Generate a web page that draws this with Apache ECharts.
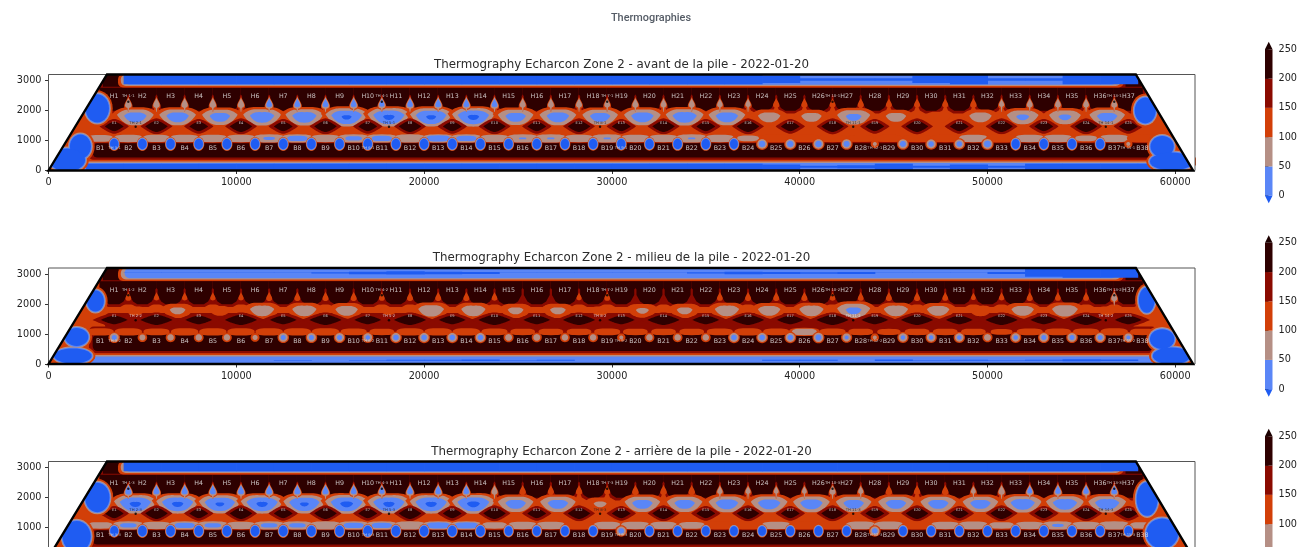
<!DOCTYPE html>
<html><head><meta charset="utf-8">
<style>html,body{margin:0;background:#fff;overflow:hidden}#main{width:1309px;height:547px;filter:blur(0.45px)}</style>
<script src="https://cdn.jsdelivr.net/npm/echarts@6/dist/echarts.min.js"></script>
</head><body><div id="main"></div>
<script>
// ---------- labels and sensor positions (metres along the pile) ----------
const pageTitle = 'Thermographies';
const panelTitles = ['Thermography Echarcon Zone 2 - avant de la pile - 2022-01-20','Thermography Echarcon Zone 2 - milieu de la pile - 2022-01-20','Thermography Echarcon Zone 2 - arrière de la pile - 2022-01-20'];
const xTicks = [0,10000,20000,30000,40000,50000,60000];
const yTicks = [0,1000,2000,3000];
const cbTicks = [0,50,100,150,200,250];
const outlineX = [0,3115,57900,60950];
const outlineY = [0,3200,3200,0];
const hNames = ['H1','H2','H3','H4','H5','H6','H7','H8','H9','H10','H11','H12','H13','H14','H15','H16','H17','H18','H19','H20','H21','H22','H23','H24','H25','H26','H27','H28','H29','H30','H31','H32','H33','H34','H35','H36','H37'];
const hX = [3500,5000,6500,8000,9500,11000,12500,14000,15500,17000,18500,20000,21500,23000,24500,26000,27500,29000,30500,32000,33500,35000,36500,38000,39500,41000,42500,44000,45500,47000,48500,50000,51500,53000,54500,56000,57500];
const eNames = ['E1','E2','E3','E4','E5','E6','E7','E8','E9','E10','E11','E12','E13','E14','E15','E16','E17','E18','E19','E20','E21','E22','E23','E24','E25'];
const eX = [3500,5750,8000,10250,12500,14750,17000,19250,21500,23750,26000,28250,30500,32750,35000,37250,39500,41750,44000,46250,48500,50750,53000,55250,57500];
const bNames = ['B1','B2','B3','B4','B5','B6','B7','B8','B9','B10','B11','B12','B13','B14','B15','B16','B17','B18','B19','B20','B21','B22','B23','B24','B25','B26','B27','B28','B29','B30','B31','B32','B33','B34','B35','B36','B37','B38'];
const bX = [2750,4250,5750,7250,8750,10250,11750,13250,14750,16250,17750,19250,20750,22250,23750,25250,26750,28250,29750,31250,32750,34250,35750,37250,38750,40250,41750,43250,44750,46250,47750,49250,50750,52250,53750,55250,56750,58250];
const dropX = [4250,5750,7250,8750,10250,11750,13250,14750,16250,17750,19250,20750,22250,23750,25250,26750,28250,29750,31250,32750,34250,35750,37250,38750,40250,41750,43250,44750,46250,47750,49250,50750,52250,53750,55250,56750];
const lensX = [4625,6875,9125,11375,13625,15875,18125,20375,22625,24875,27125,29375,31625,33875,36125,38375,40625,42875,45125,47375,49625,51875,54125,56375];
const holeX = [3500,5000,6500,8000,9500,11000,12500,14000,15500,17000,18500,20000,21500,23000,24500,26000,27500,29000,30500,32000,33500,35000,36500,38000,39500,41000,42500,44000,45500,47000,48500,50000,51500,53000,54500,56000,57500];
const thHX = [4250,17750,29750,41750,56750];
const thEX = [4640,18130,29370,42850,56300];
const thBX = [3520,17020,30490,44000,57470];
const thHNames = ['TH 1','TH 4','TH 7','TH 10','TH 13'];
const thENames = ['TH 2','TH 5','TH 8','TH 11','TH 14'];
const thBNames = ['TH 3','TH 6','TH 9','TH 12','TH 15'];
const topX = [4000,6000,8000,10000,12000,14000,16000,18000,20000,22000,24000,26000,28000,30000,32000,34000,36000,38000,40000,42000,44000,46000,48000,50000,52000,54000,56000];
const bottomX = [2000,4000,6000,8000,10000,12000,14000,16000,18000,20000,22000,24000,26000,28000,30000,32000,34000,36000,38000,40000,42000,44000,46000,48000,50000,52000,54000,56000,58000];

// ---------- temperatures (deg C) ----------
const avantCell = [225,225,225,225,225,225,225,225,225,225,225,225,225,225,225,225,225,225,225,225,225,225,225,225,225,225,225,225,225,225,225,225,225,225,225,225,225];
const avantDrop = [55,60,60,60,60,30,30,30,30,40,30,30,30,30,70,70,70,75,70,75,70,80,85,110,115,120,115,120,120,120,110,90,75,75,75,70];
const avantLens = [20,20,25,15,15,-6,-8,-6,-8,25,20,25,20,15,20,70,75,35,75,110,70,40,40,25];
const avantDiamond = [235,250,235,250,235,250,235,250,235,250,235,250,235,250,235,250,235,250,235,250,235,250,235,250,235];
const avantBridge = [80,70,75,70,70,70,45,35,70,40,35,60,30,35,70,48,48,70,48,70,70,48,70,95,110,115,120,130,125,120,120,70,100,70,70,95,70,110];
const avantHole = [-40,-40,-40,-40,-40,-40,-40,-40,-40,-40,-40,-40,-40,-40,-30,-30,-30,-30,-30,-30,-35,-35,-20,10,10,10,15,85,15,20,20,5,-20,-25,-25,-30,85];
const avantTop = [-30,-30,-30,-30,-30,-30,-30,-30,-30,-30,-30,-30,-30,-30,-30,-30,-30,-22,-8,-8,-8,-22,-30,-8,-8,-30,-30];
const avantBottom = [-25,-25,-25,-25,-25,-25,-25,-25,-25,-25,-25,-25,-25,-25,-25,-25,-25,-25,-18,-8,-12,-25,-8,-18,-8,-25,-25,-25,-25];
const avantStrips = [[2700,4150,2000,3200,175],[2900,3800,2300,3200,225],[56950,58400,2000,3200,175],[57350,58200,2300,3200,225],[3700,57250,2770,3200,125],[3850,57100,2820,3200,75],[4050,56880,2860,3200,25],[2150,59000,340,960,175],[2350,58800,430,905,225],[1800,59600,0,360,125],[1600,59800,0,300,75],[1500,60000,0,250,25]];
const avantBlobs = [[2600,2070,620,470,-20],[58400,2000,560,430,-20],[1700,800,560,400,-20],[1000,350,950,380,-20],[59300,800,620,350,-20],[59800,300,1150,300,-20]];

const milieuCell = [225,225,225,225,225,225,225,225,225,225,225,225,225,225,225,225,225,225,225,225,225,225,225,225,225,225,225,225,225,225,225,225,225,225,225,225,225];
const milieuDrop = [125,135,135,135,135,120,120,120,120,125,120,120,120,130,155,155,140,125,155,155,155,125,120,120,120,130,125,120,120,125,145,135,120,125,125,70];
const milieuLens = [125,85,120,65,65,70,130,60,65,85,85,125,90,85,65,70,65,35,65,70,115,70,60,125];
const milieuDiamond = [232,245,232,245,232,245,232,245,232,245,232,245,232,245,232,245,232,245,232,245,232,245,232,245,232];
const milieuBridge = [125,125,130,125,125,125,125,125,125,130,135,125,125,125,130,135,135,135,130,135,135,135,130,125,130,85,130,135,140,135,135,135,145,130,130,130,125,135];
const milieuHole = [25,65,60,60,60,75,25,25,25,30,20,20,20,20,55,55,60,60,85,60,60,60,20,20,20,15,35,85,30,30,30,55,30,25,25,25,35];
const milieuTop = [-1,-1,-1,-1,-1,-4,-8,-10,-8,-6,-1,-1,-1,-1,-1,-4,-8,-6,-5,-6,-1,-1,-1,-6,-24,-30,-30];
const milieuBottom = [-1,-1,-1,-1,-1,-3,-1,-3,-5,-4,-6,-2,-5,-1,-1,-1,-1,-1,-4,-5,-1,-6,-3,-5,-2,-5,-8,-6,-1];
const milieuStrips = [[2700,4150,2000,3200,175],[2900,3800,2200,3200,225],[56950,58400,2000,3200,175],[57350,58200,2200,3200,225],[3000,57800,1150,1700,175],[3300,57700,1980,2750,175],[3700,57250,2770,3200,125],[3850,57100,2820,3200,75],[4050,56880,2860,3200,25],[2150,59000,340,1250,175],[2350,58800,430,990,225],[1900,59500,0,360,125],[1700,59700,0,300,75],[1500,60000,0,250,25]];
const milieuBlobs = [[2500,2100,450,350,-10],[58480,2130,420,420,-10],[1500,900,620,300,-20],[1300,270,1000,250,-20],[59300,830,650,330,-20],[59800,270,1000,280,-20]];

const arriereCell = [225,225,225,225,225,225,225,225,225,225,225,225,225,225,225,225,225,225,225,225,225,225,225,225,225,225,225,225,225,225,225,225,225,225,225,225,225];
const arriereDrop = [20,25,25,25,25,25,25,25,30,40,30,30,30,70,110,115,110,120,105,105,105,85,90,95,95,70,90,105,110,105,95,65,45,35,35,30];
const arriereLens = [-8,-8,-5,-8,-5,-10,-8,-8,-10,25,25,90,25,25,20,20,20,25,25,25,25,15,15,15];
const arriereDiamond = [235,250,235,250,235,250,235,250,235,250,235,250,235,250,235,250,235,250,235,250,235,250,235,250,235];
const arriereBridge = [85,40,70,35,40,70,40,40,60,35,35,60,30,30,85,70,70,110,75,70,75,80,100,110,70,110,110,65,65,110,70,65,85,70,45,70,55,85];
const arriereHole = [-20,-40,-40,-40,-40,-40,-40,-40,-40,-40,-40,-40,-40,-40,-5,-5,-5,-5,20,-5,-5,-5,-10,-10,-10,-15,-5,20,-5,-10,-15,-15,-25,-25,-20,-20,-5];
const arriereTop = [-30,-30,-30,-30,-30,-30,-30,-30,-30,-30,-30,-30,-30,-30,-30,-30,-30,-30,-30,-30,-30,-30,-30,-30,-30,-30,-30];
const arriereBottom = [-25,-25,-25,-25,-25,-25,-25,-25,-25,-25,-25,-25,-25,-25,-25,-25,-25,-25,-25,-25,-25,-25,-25,-25,-25,-25,-25,-25,-25];
const arriereStrips = [[2700,4150,2000,3200,175],[2900,3800,2300,3200,225],[56950,58400,2000,3200,175],[57350,58200,2300,3200,225],[3700,57250,2770,3200,125],[3850,57100,2820,3200,75],[4050,56880,2860,3200,25],[2150,59000,340,960,175],[2350,58800,430,905,225],[1800,59600,0,360,125],[1600,59800,0,300,75],[1500,60000,0,250,25]];
const arriereBlobs = [[2600,2000,650,490,-20],[58500,1950,560,560,-20],[1500,700,750,520,-20],[59300,800,850,500,-20]];

// ---------- colour bands ----------
const DEEP='#1f5cf2', LIGHT='#5a86f7', TAN='#b58f85', ORANGE='#d23f08', DARK='#8a0a00', BLACK='#2e0000';
const bandLo = [0,50,100,150,200];
const bandHi = [50,100,150,200,250];
const bandColors = [LIGHT,TAN,ORANGE,DARK,BLACK];
function bandOf(v){return v<0?DEEP:v<50?LIGHT:v<100?TAN:v<150?ORANGE:v<200?DARK:BLACK;}
const coldLevels=[[150,ORANGE],[100,TAN],[50,LIGHT],[0,DEEP]];
const hotLevels=[[150,DARK],[200,BLACK]];
const blobRings=[[200,130,ORANGE],[100,70,TAN],[50,30,LIGHT],[0,0,DEEP]];

// ---------- mark kinds and contour-like shapes ----------
const K={BASE:0,STRIP:1,CELL:2,LENS:3,DIAMOND:4,DROP:5,BRIDGE:6,HOLE:7,TOP:8,BOTTOM:9,BLOB:10,MASK:11,FRAME:12,OUTLINE:13};
function lens(cx,cy,hw,hh,pow,lift){const p=[];const N=14;
  const f=u=>1-Math.pow(Math.abs(u),pow);
  for(let i=-N;i<=N;i++){const u=i/N;p.push([cx+hw*u,cy+lift*u*u+hh*f(u)]);}
  for(let i=N-1;i>-N;i--){const u=i/N;p.push([cx+hw*u,cy+lift*u*u-hh*f(u)]);}return p;}
function flat(cx,cy,hw,hh){const p=[];const N=16;
  for(let i=0;i<2*N;i++){const a=Math.PI*i/N;const c=Math.cos(a),s=Math.sin(a);p.push([cx+hw*Math.sign(c)*Math.pow(Math.abs(c),0.6),cy+hh*Math.sign(s)*Math.pow(Math.abs(s),0.8)]);}return p;}
function ell(cx,cy,rx,ry){const p=[];for(let i=0;i<28;i++){const a=Math.PI*i/14;p.push([cx+rx*Math.cos(a),cy+ry*Math.sin(a)]);}return p;}
function drop(cx,cy,hw,hh){const p=[];for(let i=0;i<28;i++){const a=Math.PI*i/14;const c=Math.cos(a);p.push([cx+hw*1.5*Math.sin(a)*(1-c)/2,cy+hh*c]);}return p;}
function coldS(t,v,k){return t<=v?0:Math.min(1.6,Math.sqrt((t-v)/k));}
function offS(t,v,o,k){return t<=v?0:Math.sqrt((t-v+o)/k);}
function hotS(t,v,k){return v<=t?0:Math.min(1.6,Math.sqrt((v-t)/k));}

function makeRender(){
  return function(params,api){
    const kind=api.value(0),x=api.value(1),y=api.value(2),v=api.value(3),a=api.value(4),b=api.value(5),lvl=api.value(6);
    const poly=(pts,fill)=>({type:'polygon',shape:{points:pts.map(q=>api.coord(q))},style:{fill:fill}});
    const kids=[];
    if(kind===K.BASE){kids.push(poly(outlineX.map((q,i)=>[q,outlineY[i]]),ORANGE));}
    else if(kind===K.STRIP){
      const p0=api.coord([x,y]),p1=api.coord([a,b]);
      const h=Math.abs(p1[1]-p0[1]);
      kids.push({type:'rect',shape:{x:p0[0],y:Math.min(p0[1],p1[1]),width:p1[0]-p0[0],height:h,r:Math.min(5,h/2)},style:{fill:bandOf(v)}});
    }
    else if(kind===K.CELL){
      const D=[[-770,2790],[770,2790],[770,2260],[600,2000],[320,1900],[-320,1900],[-600,2000],[-770,2260]];
      const B=[[-770,2755],[770,2755],[770,2540],[690,2480],[690,2300],[500,2080],[270,1990],[-270,1990],[-500,2080],[-690,2300],[-690,2480],[-770,2540]];
      kids.push(poly(D.map(q=>[x+q[0],q[1]]),DARK));
      if(v>=200)kids.push(poly(B.map(q=>[x+q[0],q[1]]),BLACK));
    }
    else if(kind===K.LENS){
      coldLevels.forEach(l=>{const s=coldS(l[0],v,80);if(s>0)kids.push(poly(lens(x,y,980*s,265*s,3,90*s),l[1]));});
    }
    else if(kind===K.DIAMOND){
      hotLevels.forEach(l=>{const s=hotS(l[0],v,50);if(s>0)kids.push(poly(lens(x,y,a*s,b*s,1.5,0),l[1]));});
    }
    else if(kind===K.DROP){
      coldLevels.forEach(l=>{const s=offS(l[0],v,40,120);if(s>0){
        kids.push(poly(drop(x,y,215*s,210*s),l[1]));
        if(l[0]>=100&&v<100)kids.push(poly([[x-80*s,y-100*s],[x+80*s,y-100*s],[x+12,1950],[x-12,1950]],l[1]));
      }});
    }
    else if(kind===K.BRIDGE){
      coldLevels.forEach(l=>{
        const s=l[0]<=50?coldS(l[0],v,30):offS(l[0],v,30,60);
        if(s>0){const q=Math.min(1.08,s);kids.push(poly(flat(x,y,760*q,125*q),l[1]));}
      });
    }
    else if(kind===K.HOLE){
      coldLevels.forEach(l=>{
        const s=v<0?offS(l[0],v,150,230):coldS(l[0],v,80);
        if(s>0)kids.push(poly(ell(x,y,245*s,(v<0?190:150)*s),l[1]));
      });
    }
    else if(kind===K.TOP||kind===K.BOTTOM){
      const full=kind===K.TOP?320:240;
      const h=Math.min(full,-v*(full/30));
      const p0=api.coord([x,y+h/2]),p1=api.coord([x+2000,y-h/2]);
      if(v<0)kids.push({type:'rect',shape:{x:p0[0],y:p0[1],width:p1[0]-p0[0]+0.5,height:p1[1]-p0[1]},style:{fill:DEEP}});
    }
    else if(kind===K.BLOB){
      const l=blobRings[lvl];kids.push(poly(ell(x,y,a+l[0],b+l[1]),l[2]));
    }
    else if(kind===K.MASK){
      kids.push(poly([[0,0],[outlineX[1],outlineY[1]],[0,outlineY[1]]],'#fff'));
      kids.push(poly([[outlineX[3],0],[61050,0],[61050,3200],[outlineX[2],outlineY[2]]],'#fff'));
    }
    else if(kind===K.FRAME){
      const p0=api.coord([x,a]),p1=api.coord([y,b]);
      kids.push({type:'rect',shape:{x:p0[0],y:p1[1],width:p1[0]-p0[0],height:p0[1]-p1[1]},style:{fill:'none',stroke:'#555',lineWidth:1}});
    }
    else if(kind===K.OUTLINE){
      kids.push({type:'polygon',shape:{points:outlineX.map((q,i)=>api.coord([q,outlineY[i]]))},style:{fill:'none',stroke:'#000',lineWidth:2.4,lineJoin:'miter'}});
    }
    return {type:'group',children:kids};
  };
}

function buildMarks(d){
  const m=[];
  const add=(k,x,y,v,a,b,l)=>m.push([k,x,y,v,a||0,b||0,l||0]);
  add(K.BASE,0,0,0);
  d.strips.filter(s=>s[2]>=1100&&s[3]<3200).forEach(s=>add(K.STRIP,s[0],s[2],s[4],s[1],s[3]));
  d.strips.filter(s=>s[3]===3200&&s[4]>150).forEach(s=>add(K.STRIP,s[0],s[2],s[4],s[1],s[3]));
  hX.forEach((x,i)=>add(K.CELL,x,2400,d.cell[i]));
  lensX.forEach((x,i)=>add(K.LENS,x,1770,d.lens[i]));
  eX.forEach((x,i)=>add(K.DIAMOND,x,1470,d.diamond[i],d.dw,d.dh));
  dropX.forEach((x,i)=>add(K.DROP,x,2260,d.drop[i]));
  d.strips.filter(s=>s[2]<1100&&s[4]>150).forEach(s=>add(K.STRIP,s[0],s[2],s[4],s[1],s[3]));
  bX.forEach((x,i)=>add(K.BRIDGE,x,1070,d.bridge[i]));
  holeX.forEach((x,i)=>add(K.HOLE,x,885,d.hole[i]));
  d.strips.filter(s=>s[4]<150).forEach(s=>add(K.STRIP,s[0],s[2],s[4],s[1],s[3]));
  topX.forEach((x,i)=>add(K.TOP,x,3035,d.top[i]));
  bottomX.forEach((x,i)=>add(K.BOTTOM,x,125,d.bottom[i]));
  [0,1,2,3].forEach(l=>d.blobs.forEach(b=>add(K.BLOB,b[0],b[1],b[4],b[2],b[3],l)));
  add(K.MASK,0,0,0);
  return m;
}

const panels=[
 {cell:avantCell,drop:avantDrop,lens:avantLens,diamond:avantDiamond,bridge:avantBridge,hole:avantHole,top:avantTop,bottom:avantBottom,strips:avantStrips,blobs:avantBlobs,suffix:'-1',dw:600,dh:190},
 {cell:milieuCell,drop:milieuDrop,lens:milieuLens,diamond:milieuDiamond,bridge:milieuBridge,hole:milieuHole,top:milieuTop,bottom:milieuBottom,strips:milieuStrips,blobs:milieuBlobs,suffix:'-2',dw:900,dh:180},
 {cell:arriereCell,drop:arriereDrop,lens:arriereLens,diamond:arriereDiamond,bridge:arriereBridge,hole:arriereHole,top:arriereTop,bottom:arriereBottom,strips:arriereStrips,blobs:arriereBlobs,suffix:'-3',dw:600,dh:190}
];
const panelTop=[74.5,268,461.5];
const grids=[],xAxes=[],yAxes=[],series=[],titles=[];
titles.push({text:pageTitle,left:651,top:13,padding:0,textAlign:'center',textStyle:{fontFamily:'Roboto',fontSize:10.9,fontWeight:500,color:'#555c66'}});
function labelSeries(g,names,xs,y,size,color){
  return {type:'scatter',xAxisIndex:g,yAxisIndex:g,symbolSize:0,z:5,silent:true,
    data:names.map((n,i)=>({name:n,value:[xs[i],y]})),
    label:{show:true,position:'inside',formatter:'{b}',fontFamily:'DejaVu Sans',fontSize:size,color:color}};
}
panels.forEach((d,g)=>{
  grids.push({left:48.5,width:1146.5,top:panelTop[g],height:96,show:false,outerBoundsMode:'none'});
  const ax={type:'value',axisLine:{show:false},splitLine:{show:false},axisLabel:{fontFamily:'DejaVu Sans',fontSize:9.7,color:'#222'}};
  xAxes.push(Object.assign({},ax,{gridIndex:g,min:0,max:61050,axisTick:{show:true,length:3.5,customValues:xTicks,lineStyle:{color:'#333'}},axisLabel:Object.assign({},ax.axisLabel,{customValues:xTicks,margin:7,formatter:v=>String(v)})}));
  yAxes.push(Object.assign({},ax,{gridIndex:g,min:0,max:3200,axisTick:{show:true,length:3.5,customValues:yTicks,lineStyle:{color:'#333'}},axisLabel:Object.assign({},ax.axisLabel,{customValues:yTicks,margin:7,formatter:v=>String(v)})}));
  titles.push({text:panelTitles[g],left:621.5,top:panelTop[g]-16,padding:0,textAlign:'center',textStyle:{fontFamily:'DejaVu Sans',fontSize:11.85,fontWeight:'normal',color:'#2b2b2b'}});
  series.push({type:'custom',xAxisIndex:g,yAxisIndex:g,clip:true,silent:true,z:2,encode:{x:1,y:2},renderItem:makeRender(),data:buildMarks(d)});
  series.push({type:'custom',xAxisIndex:g,yAxisIndex:g,clip:false,silent:true,z:3,encode:{x:1,y:2},renderItem:makeRender(),data:[[K.FRAME,0,61050,0,0,3200,0],[K.OUTLINE,0,0,0,0,0,0]]});
  series.push(labelSeries(g,hNames,hX,2470,6.3,'#eeeeee'));
  series.push(labelSeries(g,bNames,bX,750,6.3,'#eeeeee'));
  series.push(labelSeries(g,eNames,eX,1590,3.6,'#eeeeee'));
  series.push(labelSeries(g,thHNames.map(n=>n+d.suffix),thHX,2470,3.8,'#eeeeee'));
  series.push(labelSeries(g,thENames.map(n=>n+d.suffix),thEX,1590,3.8,g===1?'#eeeeee':'#222222'));
  series.push(labelSeries(g,thBNames.map(n=>n+d.suffix),thBX,750,3.8,'#dddddd'));
  series.push({type:'scatter',xAxisIndex:g,yAxisIndex:g,symbolSize:2.4,z:6,silent:true,itemStyle:{color:'#000'},
    data:thHX.map(x=>[x,2290]).concat(thEX.map(x=>[x,1460]))});
});
// colour bars
panelTop.forEach((t,i)=>{
  const g=grids.length;
  grids.push({left:1265,width:7.5,top:t-25.2,height:146.4,show:false,outerBoundsMode:'none'});
  xAxes.push({gridIndex:g,type:'value',min:0,max:1,show:false});
  yAxes.push({gridIndex:g,type:'value',position:'right',min:0,max:250,axisLine:{show:false},splitLine:{show:false},
    axisTick:{show:true,length:3.5,customValues:cbTicks,lineStyle:{color:'#333'}},
    axisLabel:{customValues:cbTicks,fontFamily:'DejaVu Sans',fontSize:9.7,color:'#222',margin:6}});
  series.push({type:'custom',xAxisIndex:g,yAxisIndex:g,clip:false,silent:true,encode:{y:[0,1]},
    data:bandLo.map((lo,j)=>[lo,bandHi[j],j]),
    renderItem:(p,api)=>{
      const lo=api.value(0),hi=api.value(1),j=api.value(2);
      const a=api.coord([0,hi]),b=api.coord([1,lo]);
      const kids=[{type:'rect',shape:{x:a[0],y:a[1],width:b[0]-a[0],height:b[1]-a[1]},style:{fill:bandColors[j]}}];
      if(j===0)kids.push({type:'polygon',shape:{points:[api.coord([0,0]),api.coord([1,0]),api.coord([0.5,-13])]},style:{fill:DEEP}});
      if(j===4)kids.push({type:'polygon',shape:{points:[api.coord([0,250]),api.coord([1,250]),api.coord([0.5,263])]},style:{fill:'#1c0000'}});
      return {type:'group',children:kids};
    }});
});
const chart=echarts.init(document.getElementById('main'),null,{renderer:'canvas'});
chart.setOption({animation:false,backgroundColor:'#fff',title:titles,grid:grids,xAxis:xAxes,yAxis:yAxes,series:series});
</script></body></html>
